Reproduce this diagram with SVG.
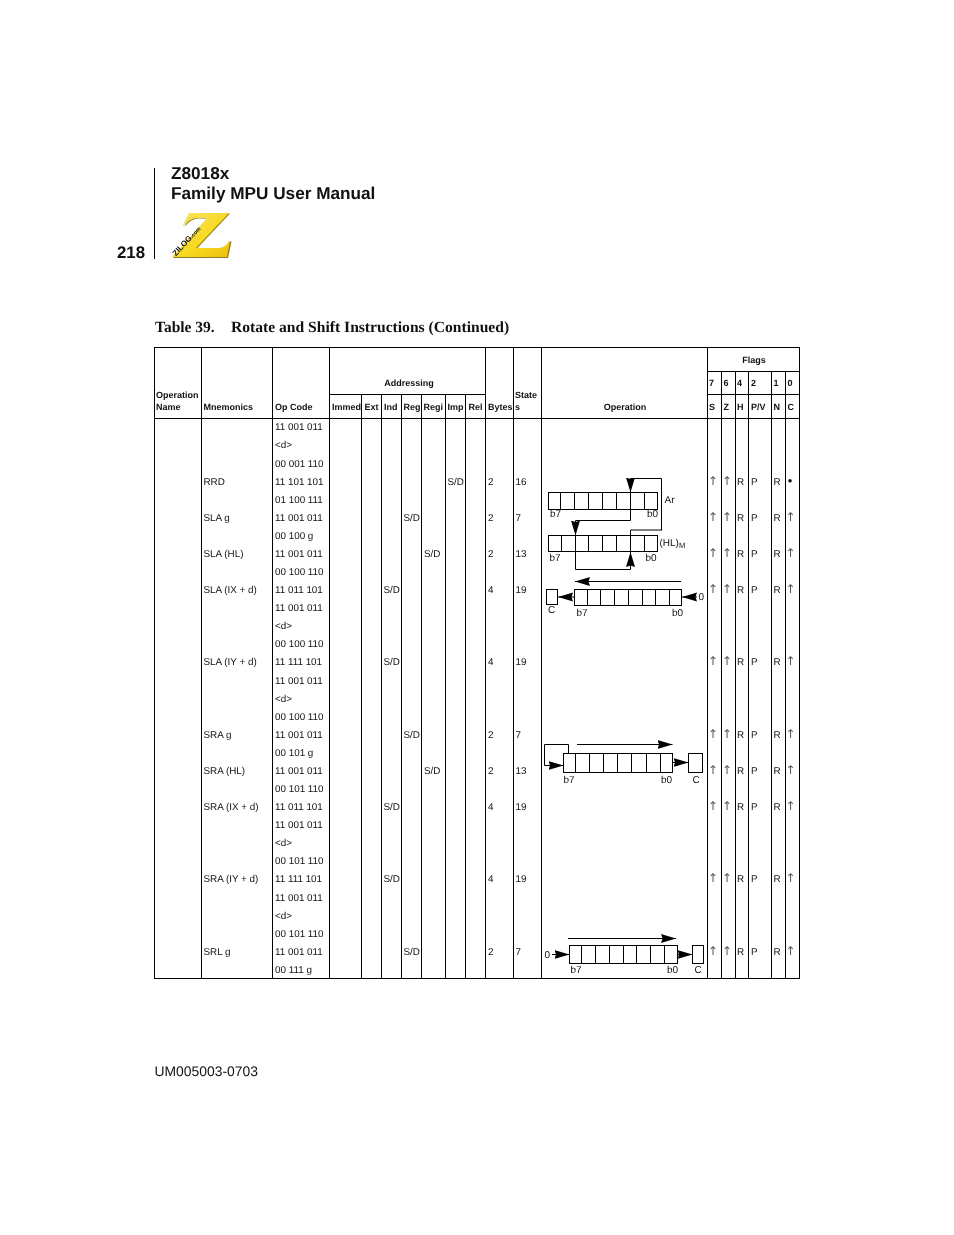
<svg xmlns="http://www.w3.org/2000/svg" width="954" height="1235" viewBox="0 0 954 1235">
<style>
text{font-family:"Liberation Sans",Arial,sans-serif;fill:#111;text-rendering:geometricPrecision}
.t{font-size:9.85px}
.h{font-size:9px;font-weight:bold}
.m{text-anchor:middle}
.d{font-size:10px}
.l{stroke:#000;stroke-width:1;fill:none}
.w{stroke:#000;stroke-width:1;fill:#fff}
.c{stroke:#000;stroke-width:1;fill:none}
.a{stroke:#000;stroke-width:1;fill:none;marker-end:url(#ah)}
.f{font-size:12px;font-family:"DejaVu Sans",sans-serif;fill:#555}
</style>
<defs>
<marker id="ah" markerUnits="userSpaceOnUse" markerWidth="16" markerHeight="10" refX="15" refY="4.5" orient="auto"><path d="M0,0 L15,4.5 L0,9 L1.5,4.5Z" fill="#000"/></marker>
<linearGradient id="zg" x1="0" y1="0" x2="1" y2="1"><stop offset="0" stop-color="#f7e56a"/><stop offset="0.6" stop-color="#f8d81e"/><stop offset="1" stop-color="#eec010"/></linearGradient>
</defs>
<rect width="954" height="1235" fill="#fff"/>
<g opacity="0.999">
<g id="header">
<path class="l" d="M154.5,168V259"/>
<text x="171" y="179" font-size="17.2" font-weight="bold">Z8018x</text>
<text x="171" y="199" font-size="17.2" font-weight="bold">Family MPU User Manual</text>
<text x="117" y="258" font-size="16.8" font-weight="bold">218</text>
</g>
<g id="logo">
<path d="M190,213.5L230,213.5L197,248.5L220,248.5Q227,247.5 230,241.5L231.5,241.5L228,258L173,258L208,218.5L197,218.5Q190,219.5 185,226.5Z" fill="#8a7a30"/>
<path d="M189,213L229,213L196,248L219,248Q226,247 229,241L230,241L227,257L172,257L207,218L196,218Q189,219 184,226L183,225Z" fill="url(#zg)"/>
<text transform="translate(176,256.5) rotate(-48)" font-size="8" font-weight="bold" style="fill:#111">ZILOG<tspan font-size="5.5">.com</tspan></text>
</g>
<g id="caption">
<text x="155" y="332" font-size="15.5" font-weight="bold" style="font-family:'Liberation Serif',serif">Table 39.</text>
<text x="231" y="332" font-size="15.6" font-weight="bold" style="font-family:'Liberation Serif',serif">Rotate and Shift Instructions (Continued)</text>
</g>
<g id="table-grid">
<path class="l" d="M154,347.5H800M707.5,371.5H800M329.5,394.5H485.5M707.5,394.5H800M154,418.5H800M154,978.5H800"/>
<path class="l" d="M154.5,347V979M201.5,347V979M272.5,347V979M329.5,347V979M485.5,347V979M513.5,347V979M541.5,347V979M707.5,347V979M799.5,347V979"/>
<path class="l" d="M361.5,394V979M381.5,394V979M401.5,394V979M421.5,394V979M445.5,394V979M465.5,394V979"/>
<path class="l" d="M721.5,371V979M735.5,371V979M748.5,371V979M771.5,371V979M785.5,371V979"/>
</g>
<g id="table-head" class="h">
<text class="h" x="156" y="398">Operation</text>
<text class="h" x="156" y="410">Name</text>
<text class="h" x="203.5" y="410">Mnemonics</text>
<text class="h" x="275" y="410">Op Code</text>
<text class="h m" x="409" y="386">Addressing</text>
<text class="h" x="332" y="410">Immed</text>
<text class="h" x="364.5" y="410">Ext</text>
<text class="h" x="384" y="410">Ind</text>
<text class="h" x="403.5" y="410">Reg</text>
<text class="h" x="423.5" y="410">Regi</text>
<text class="h" x="447.5" y="410">Imp</text>
<text class="h" x="468.5" y="410">Rel</text>
<text class="h" x="488" y="410">Bytes</text>
<text class="h" x="515" y="398">State</text>
<text class="h" x="515" y="410">s</text>
<text class="h m" x="625" y="410">Operation</text>
<text class="h m" x="754" y="363">Flags</text>
<text class="h" x="709" y="386">7</text><text class="h" x="723.5" y="386">6</text><text class="h" x="737" y="386">4</text><text class="h" x="751" y="386">2</text><text class="h" x="773.5" y="386">1</text><text class="h" x="787.5" y="386">0</text>
<text class="h" x="709" y="410">S</text><text class="h" x="723.5" y="410">Z</text><text class="h" x="737" y="410">H</text><text class="h" x="751" y="410">P/V</text><text class="h" x="773.5" y="410">N</text><text class="h" x="787.5" y="410">C</text>
</g>
<g id="opcodes" transform="translate(0,-0.5)">
<text class="t" x="275" y="430">11 001 011</text>
<text class="t" x="275" y="448">&lt;d&gt;</text>
<text class="t" x="275" y="467">00 001 110</text>
<text class="t" x="275" y="485">11 101 101</text>
<text class="t" x="275" y="503">01 100 111</text>
<text class="t" x="275" y="521">11 001 011</text>
<text class="t" x="275" y="539">00 100 g</text>
<text class="t" x="275" y="557">11 001 011</text>
<text class="t" x="275" y="575">00 100 110</text>
<text class="t" x="275" y="593">11 011 101</text>
<text class="t" x="275" y="611">11 001 011</text>
<text class="t" x="275" y="629">&lt;d&gt;</text>
<text class="t" x="275" y="647">00 100 110</text>
<text class="t" x="275" y="665">11 111 101</text>
<text class="t" x="275" y="684">11 001 011</text>
<text class="t" x="275" y="702">&lt;d&gt;</text>
<text class="t" x="275" y="720">00 100 110</text>
<text class="t" x="275" y="738">11 001 011</text>
<text class="t" x="275" y="756">00 101 g</text>
<text class="t" x="275" y="774">11 001 011</text>
<text class="t" x="275" y="792">00 101 110</text>
<text class="t" x="275" y="810">11 011 101</text>
<text class="t" x="275" y="828">11 001 011</text>
<text class="t" x="275" y="846">&lt;d&gt;</text>
<text class="t" x="275" y="864">00 101 110</text>
<text class="t" x="275" y="882">11 111 101</text>
<text class="t" x="275" y="901">11 001 011</text>
<text class="t" x="275" y="919">&lt;d&gt;</text>
<text class="t" x="275" y="937">00 101 110</text>
<text class="t" x="275" y="955">11 001 011</text>
<text class="t" x="275" y="973">00 111 g</text>
</g>
<g id="rows" transform="translate(0,-0.5)">
<text class="t" x="203.5" y="485">RRD</text><text class="t" x="447.5" y="485">S/D</text><text class="t" x="488" y="485">2</text><text class="t" x="515.5" y="485">16</text>
<text class="t" x="203.5" y="521">SLA g</text><text class="t" x="403.5" y="521">S/D</text><text class="t" x="488" y="521">2</text><text class="t" x="515.5" y="521">7</text>
<text class="t" x="203.5" y="557">SLA (HL)</text><text class="t" x="424" y="557">S/D</text><text class="t" x="488" y="557">2</text><text class="t" x="515.5" y="557">13</text>
<text class="t" x="203.5" y="593">SLA (IX + d)</text><text class="t" x="383.5" y="593">S/D</text><text class="t" x="488" y="593">4</text><text class="t" x="515.5" y="593">19</text>
<text class="t" x="203.5" y="665">SLA (IY + d)</text><text class="t" x="383.5" y="665">S/D</text><text class="t" x="488" y="665">4</text><text class="t" x="515.5" y="665">19</text>
<text class="t" x="203.5" y="738">SRA g</text><text class="t" x="403.5" y="738">S/D</text><text class="t" x="488" y="738">2</text><text class="t" x="515.5" y="738">7</text>
<text class="t" x="203.5" y="774">SRA (HL)</text><text class="t" x="424" y="774">S/D</text><text class="t" x="488" y="774">2</text><text class="t" x="515.5" y="774">13</text>
<text class="t" x="203.5" y="810">SRA (IX + d)</text><text class="t" x="383.5" y="810">S/D</text><text class="t" x="488" y="810">4</text><text class="t" x="515.5" y="810">19</text>
<text class="t" x="203.5" y="882">SRA (IY + d)</text><text class="t" x="383.5" y="882">S/D</text><text class="t" x="488" y="882">4</text><text class="t" x="515.5" y="882">19</text>
<text class="t" x="203.5" y="955">SRL g</text><text class="t" x="403.5" y="955">S/D</text><text class="t" x="488" y="955">2</text><text class="t" x="515.5" y="955">7</text>
</g>
<g id="flags" transform="translate(0,-0.5)">
<text class="f m" x="713" y="485">↑</text><text class="f m" x="727" y="485">↑</text><text class="t" x="737" y="485">R</text><text class="t" x="751" y="485">P</text><text class="t" x="773.5" y="485">R</text><text class="t m" x="790" y="485" style="font-size:13px">•</text>
<text class="f m" x="713" y="521">↑</text><text class="f m" x="727" y="521">↑</text><text class="t" x="737" y="521">R</text><text class="t" x="751" y="521">P</text><text class="t" x="773.5" y="521">R</text><text class="f m" x="790.5" y="521">↑</text>
<text class="f m" x="713" y="557">↑</text><text class="f m" x="727" y="557">↑</text><text class="t" x="737" y="557">R</text><text class="t" x="751" y="557">P</text><text class="t" x="773.5" y="557">R</text><text class="f m" x="790.5" y="557">↑</text>
<text class="f m" x="713" y="593">↑</text><text class="f m" x="727" y="593">↑</text><text class="t" x="737" y="593">R</text><text class="t" x="751" y="593">P</text><text class="t" x="773.5" y="593">R</text><text class="f m" x="790.5" y="593">↑</text>
<text class="f m" x="713" y="665">↑</text><text class="f m" x="727" y="665">↑</text><text class="t" x="737" y="665">R</text><text class="t" x="751" y="665">P</text><text class="t" x="773.5" y="665">R</text><text class="f m" x="790.5" y="665">↑</text>
<text class="f m" x="713" y="738">↑</text><text class="f m" x="727" y="738">↑</text><text class="t" x="737" y="738">R</text><text class="t" x="751" y="738">P</text><text class="t" x="773.5" y="738">R</text><text class="f m" x="790.5" y="738">↑</text>
<text class="f m" x="713" y="774">↑</text><text class="f m" x="727" y="774">↑</text><text class="t" x="737" y="774">R</text><text class="t" x="751" y="774">P</text><text class="t" x="773.5" y="774">R</text><text class="f m" x="790.5" y="774">↑</text>
<text class="f m" x="713" y="810">↑</text><text class="f m" x="727" y="810">↑</text><text class="t" x="737" y="810">R</text><text class="t" x="751" y="810">P</text><text class="t" x="773.5" y="810">R</text><text class="f m" x="790.5" y="810">↑</text>
<text class="f m" x="713" y="882">↑</text><text class="f m" x="727" y="882">↑</text><text class="t" x="737" y="882">R</text><text class="t" x="751" y="882">P</text><text class="t" x="773.5" y="882">R</text><text class="f m" x="790.5" y="882">↑</text>
<text class="f m" x="713" y="955">↑</text><text class="f m" x="727" y="955">↑</text><text class="t" x="737" y="955">R</text><text class="t" x="751" y="955">P</text><text class="t" x="773.5" y="955">R</text><text class="f m" x="790.5" y="955">↑</text>
</g>
<g id="reg-ar">
<rect class="w" x="548.5" y="492.5" width="109" height="17"/>
<path class="l" d="M560.5,492.5v17M574.5,492.5v17M588.5,492.5v17M602.5,492.5v17M616.5,492.5v17M630.5,492.5v17M644.5,492.5v17"/>
<text class="d" x="550" y="517">b7</text><text class="d" x="647" y="517">b0</text><text class="d" x="664.5" y="503">Ar</text>
</g>
<g id="reg-hl">
<rect class="w" x="548.5" y="535.5" width="109" height="16"/>
<path class="l" d="M561.5,535.5v16M575.5,535.5v16M588.5,535.5v16M602.5,535.5v16M616.5,535.5v16M630.5,535.5v16M644.5,535.5v16"/>
<text class="d" x="549.5" y="561">b7</text><text class="d" x="645.5" y="561">b0</text><text class="d" x="659.5" y="545.5">(HL)<tspan font-size="7.5" dy="2.5">M</tspan></text>
</g>
<g id="reg-sla">
<rect class="w" x="574.5" y="589.5" width="107" height="16"/>
<path class="l" d="M587.5,589.5v16M600.5,589.5v16M614.5,589.5v16M628.5,589.5v16M642.5,589.5v16M655.5,589.5v16M669.5,589.5v16"/>
<rect class="w" x="546.5" y="589.5" width="11" height="15"/>
<text class="d" x="548" y="613">C</text><text class="d" x="576.5" y="616">b7</text><text class="d" x="672" y="616">b0</text><text class="d" x="698.5" y="600">0</text>
</g>
<g id="reg-sra">
<rect class="w" x="563.5" y="753.5" width="109" height="19"/>
<path class="l" d="M575.5,753.5v19M589.5,753.5v19M603.5,753.5v19M617.5,753.5v19M631.5,753.5v19M646.5,753.5v19M660.5,753.5v19"/>
<rect class="w" x="688.5" y="753.5" width="14" height="19"/>
<text class="d" x="563.5" y="783">b7</text><text class="d" x="661" y="783">b0</text><text class="d" x="692.5" y="783">C</text>
</g>
<g id="reg-srl">
<rect class="w" x="569.5" y="945.5" width="108" height="18"/>
<path class="l" d="M581.5,945.5v18M595.5,945.5v18M609.5,945.5v18M623.5,945.5v18M636.5,945.5v18M650.5,945.5v18M664.5,945.5v18"/>
<rect class="w" x="692.5" y="945.5" width="11" height="18"/>
<text class="d" x="544.5" y="957.5">0</text><text class="d" x="570.5" y="973">b7</text><text class="d" x="667" y="973">b0</text><text class="d" x="694.5" y="973">C</text>
</g>
<g id="connectors">
<path class="a" d="M661.5,530.5V478.5H630.5V492.5"/>
<path class="c" d="M661.5,530H630.5V536"/>
<path class="a" d="M630.5,509.5V520.5H575.5V535.5"/>
<path class="a" d="M575.5,551.5V569.5H630.5V552"/>
<path class="a" d="M681,581.5H575"/>
<path class="a" d="M574,597H558"/>
<path class="a" d="M697,597H682"/>
<path class="a" d="M577,744.5H672.5"/>
<path class="a" d="M568.5,753.5V744.5H544.5V765.5H563.5"/>
<path class="a" d="M672.5,762.5H688.5"/>
<path class="a" d="M568,938.5H676"/>
<path class="a" d="M552,954.5H569.5"/>
<path class="a" d="M677.5,954.5H692.5"/>
</g>
<g id="footer"><text x="154.5" y="1076" font-size="13.9">UM005003-0703</text></g>
</g>
</svg>
